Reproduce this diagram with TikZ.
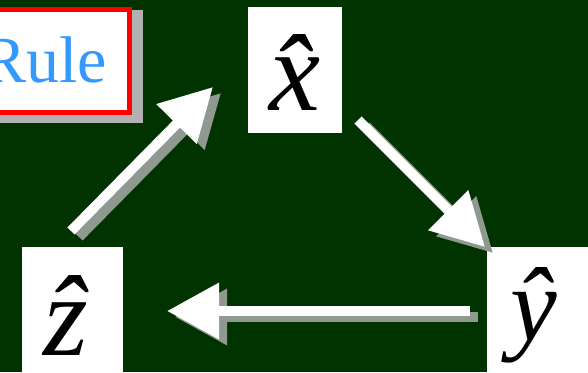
\documentclass[tikz,border=0pt]{standalone}
\usepackage{fontspec}
\setmainfont{Liberation Serif}
\usetikzlibrary{arrows.meta}
\pgfdeclarelayer{backdrop}
\pgfdeclarelayer{shade}
\pgfsetlayers{backdrop,shade,main}
\definecolor{bggreen}{RGB}{0,51,0}
\definecolor{arrowshade}{RGB}{143,153,143}
\definecolor{ruleshade}{RGB}{178,178,178}
\definecolor{ruleblue}{RGB}{51,153,255}
\definecolor{rulered}{RGB}{255,0,0}
\tikzset{
  letterbox/.style={fill=white, inner sep=0pt, anchor=north,
    font=\fontsize{115pt}{120pt}\selectfont\itshape},
  rulebox/.style={fill=white, draw=rulered, line width=5pt, inner sep=0pt,
    minimum width=170pt, text height=73.5pt, text depth=29.5pt,
    text=ruleblue, font=\fontsize{66pt}{72pt}\selectfont},
  bigarrow/.style={draw=white, line width=10pt,
    -{Triangle[length=52pt,width=54pt]}},
  bigshadow/.style={draw=arrowshade, line width=10pt,
    -{Triangle[length=52pt,width=54pt]}}
}
\begin{document}
\begin{tikzpicture}[x=1pt,y=-1pt]
\useasboundingbox (0,0) rectangle (588,372);
\clip (0,0) rectangle (588,372);
\begin{pgfonlayer}{backdrop}
\fill[bggreen] (0,0) rectangle (588,372);
\end{pgfonlayer}
% Rule box with shadow
\node[rulebox, anchor=north] (rule) at (44.5,6.5) {Rule};
\begin{pgfonlayer}{shade}
\fill[ruleshade] ([shift={(5.5,3.5)}]rule.north west) rectangle ([shift={(10.5,8.5)}]rule.south east);
\end{pgfonlayer}
% letter boxes
\node[letterbox, minimum width=94pt, text height=103pt, text depth=23pt] (xhat) at (295,7) {\^{x}};
\node[letterbox, minimum width=101pt, text height=108pt, text depth=30pt] (zhat) at (72.5,247) {\kern-14pt\^{z}};
\node[letterbox, minimum width=113pt, text height=93pt, text depth=40pt,
  font=\fontsize{105pt}{110pt}\selectfont\itshape] (yhat) at (543.5,247) {\kern-20pt\^{y}};
% arrow end points
\coordinate (zx-start) at (71,231);
\coordinate (zx-end) at (213,87);
\coordinate (xy-start) at (358,120);
\coordinate (xy-end) at (485,247);
\coordinate (yz-start) at (470,311);
\coordinate (yz-end) at (167,311);
% shadows
\draw[bigshadow] ([shift={(8,6)}]zx-start) -- ([shift={(8,6)}]zx-end);
\draw[bigshadow] ([shift={(8,6)}]xy-start) -- ([shift={(8,6)}]xy-end);
\draw[bigshadow] ([shift={(8,6)}]yz-start) -- ([shift={(8,6)}]yz-end);
% arrows
\draw[bigarrow] (zx-start) -- (zx-end);
\draw[bigarrow] (xy-start) -- (xy-end);
\draw[bigarrow] (yz-start) -- (yz-end);
\end{tikzpicture}
\end{document}
